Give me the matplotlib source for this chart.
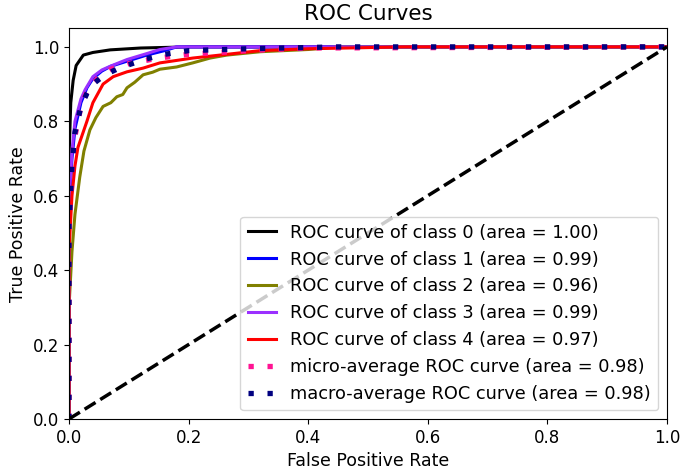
import matplotlib
matplotlib.use("Agg")
import matplotlib.pyplot as plt

# ---- data ----
fpr0 = [0, 0, 0.003, 0.007, 0.012, 0.024, 0.04, 0.069, 0.12, 0.2, 1.0]
tpr0 = [0, 0.70, 0.85, 0.91, 0.95, 0.978, 0.985, 0.992, 0.997, 1.0, 1.0]

fpr1 = [0, 0, 0.005, 0.01, 0.02, 0.03, 0.04, 0.055, 0.07, 0.1, 0.13, 0.16, 0.18, 1.0]
tpr1 = [0, 0.55, 0.70, 0.78, 0.85, 0.89, 0.915, 0.935, 0.948, 0.963, 0.978, 0.99, 1.0, 1.0]

fpr2 = [0, 0, 0.005, 0.01, 0.018, 0.025, 0.035, 0.045, 0.057, 0.07, 0.08, 0.09, 0.097,
        0.11, 0.124, 0.14, 0.152, 0.18, 0.207, 0.236, 0.264, 0.32, 0.4, 0.45, 1.0]
tpr2 = [0, 0.30, 0.45, 0.55, 0.65, 0.72, 0.777, 0.81, 0.84, 0.85, 0.866, 0.872, 0.89,
        0.905, 0.925, 0.932, 0.94, 0.946, 0.957, 0.97, 0.978, 0.987, 0.993, 1.0, 1.0]

fpr3 = [0, 0, 0.005, 0.01, 0.02, 0.027, 0.04, 0.055, 0.069, 0.097, 0.13, 0.152, 0.18, 1.0]
tpr3 = [0, 0.58, 0.72, 0.80, 0.86, 0.885, 0.92, 0.938, 0.948, 0.966, 0.982, 0.993, 1.0, 1.0]

fpr4 = [0, 0, 0.005, 0.01, 0.015, 0.03, 0.04, 0.057, 0.074, 0.097, 0.124, 0.152,
        0.207, 0.264, 0.32, 0.4, 0.56, 1.0]
tpr4 = [0, 0.45, 0.60, 0.68, 0.73, 0.80, 0.85, 0.90, 0.92, 0.933, 0.943, 0.957,
        0.97, 0.98, 0.99, 0.995, 1.0, 1.0]

fpr_micro = [0, 0, 0.005, 0.01, 0.02, 0.03, 0.05, 0.07, 0.1, 0.15, 0.2, 0.3, 0.4, 1.0]
tpr_micro = [0, 0.50, 0.68, 0.76, 0.84, 0.88, 0.92, 0.94, 0.955, 0.97, 0.98, 0.99, 0.997, 1.0]

fpr_macro = [0, 0, 0.005, 0.01, 0.02, 0.03, 0.04, 0.06, 0.08, 0.1, 0.13, 0.16, 0.2, 0.3, 0.45, 1.0]
tpr_macro = [0, 0.52, 0.68, 0.77, 0.84, 0.875, 0.90, 0.925, 0.94, 0.952, 0.968, 0.98, 0.99, 0.995, 1.0, 1.0]

class_fprs = [fpr0, fpr1, fpr2, fpr3, fpr4]
class_tprs = [tpr0, tpr1, tpr2, tpr3, tpr4]
class_aucs = [1.00, 0.99, 0.96, 0.99, 0.97]
class_colors = ["black", "blue", "olive", "#9b30ff", "red"]
micro_auc = 0.98
macro_auc = 0.98

# ---- plot ----
fig = plt.figure(figsize=(6.85, 4.73), dpi=100)
ax = fig.add_axes([0.1007, 0.1142, 0.873, 0.826])

for i, (f, t, a, c) in enumerate(zip(class_fprs, class_tprs, class_aucs, class_colors)):
    ax.plot(f, t, color=c, lw=2.2,
            label="ROC curve of class {0} (area = {1:0.2f})".format(i, a))

ax.plot(fpr_micro, tpr_micro, color="deeppink", linestyle=(0, (1, 2.6)), lw=3.8,
        label="micro-average ROC curve (area = {0:0.2f})".format(micro_auc))
ax.plot(fpr_macro, tpr_macro, color="navy", linestyle=(0, (1, 2.6)), lw=3.8,
        label="macro-average ROC curve (area = {0:0.2f})".format(macro_auc))

ax.plot([0, 1], [0, 1], "k--", lw=2.5)
ax.set_xlim([0.0, 1.0])
ax.set_ylim([0.0, 1.05])
ax.tick_params(labelsize=12)
ax.set_xlabel("False Positive Rate", fontsize=12.5)
ax.set_ylabel("True Positive Rate", fontsize=12.5)
ax.set_title("ROC Curves", fontsize=15.5)
ax.legend(loc="lower right", fontsize=12.8, handlelength=1.6)

fig.savefig("out.png", dpi=100)
